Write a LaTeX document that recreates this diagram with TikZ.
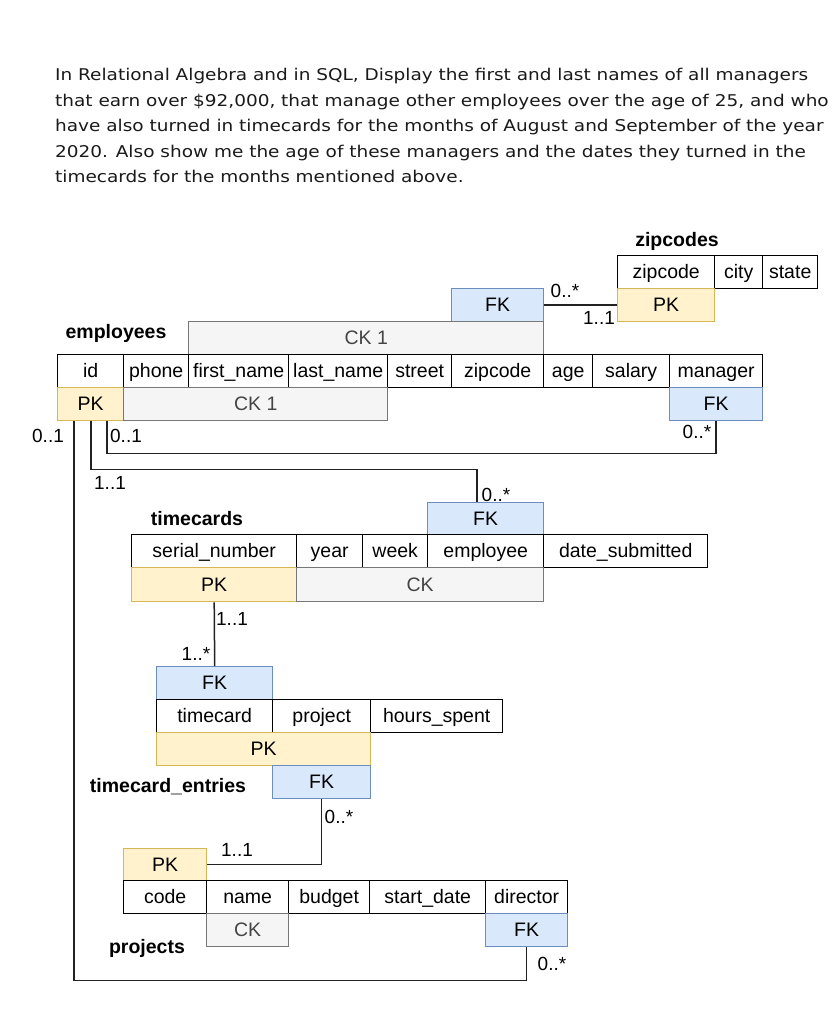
\documentclass[tikz,border=0pt]{standalone}
\usepackage{fontspec}
\setmainfont{Liberation Sans}
\newfontfamily\questfont[FakeStretch=1.14]{DejaVu Sans}
\usepackage{tikz}
\usetikzlibrary{calc}
\definecolor{pkfill}{HTML}{FFF2CC}
\definecolor{pkline}{HTML}{D6B656}
\definecolor{fkfill}{HTML}{DAE8FC}
\definecolor{fkline}{HTML}{6C8EBF}
\definecolor{ckfill}{HTML}{F5F5F5}
\definecolor{ckline}{HTML}{777777}
\definecolor{cktext}{HTML}{444444}
\definecolor{relline}{HTML}{222222}
\definecolor{questtext}{HTML}{1A1A1A}
\tikzset{
	fld/.style={draw=black, line width=1.4pt, minimum height=33pt, inner sep=0pt, anchor=north west,
		text height=15.5pt, text depth=2pt, font=\fontsize{19.5}{23}\selectfont},
	pkbox/.style={fld, draw=pkline, fill=pkfill},
	fkbox/.style={fld, draw=fkline, fill=fkfill},
	ckbox/.style={fld, draw=ckline, fill=ckfill, text=cktext},
	tbl/.style={anchor=base, inner sep=0pt, font=\fontsize{19.5}{23}\selectfont\bfseries},
	mlt/.style={anchor=base, inner sep=0pt, font=\fontsize{19}{23}\selectfont},
	rel/.style={draw=relline, line width=1.5pt},
	quest/.style={anchor=north west, inner sep=0pt, align=left, text=questtext,
		font=\questfont\fontsize{16.2}{25.6}\selectfont},
}
\begin{document}
\begin{tikzpicture}[x=1pt, y=-1pt]
	\useasboundingbox (0,0) rectangle (840,1018);
	% question
	\node[quest] (question) at (55,68) {In Relational Algebra and in SQL, Display the first and last names of all managers\\
		that earn over \$92,000, that manage other employees over the age of 25, and who\\
		have also turned in timecards for the months of August and September of the year\\
		2020. Also show me the age of these managers and the dates they turned in the\\
		timecards for the months mentioned above.};
	% zipcodes
	\node[tbl] (zipTitle) at (677,246) {zipcodes};
	\node[fld, minimum width=97pt] (zipCode) at (617,255) {zipcode};
	\node[fld, minimum width=48pt] (zipCity) at (714,255) {city};
	\node[fld, minimum width=55pt] (zipState) at (762,255) {state};
	\node[pkbox, minimum width=97pt] (zipPK) at (617,288) {PK};
	% employees
	\node[tbl] (empTitle) at (116,338) {employees};
	\node[fkbox, minimum width=92pt] (empFK) at (451,288) {FK};
	\node[ckbox, minimum width=355pt] (empCKtop) at (188,321) {CK 1};
	\node[fld, minimum width=66pt] (empId) at (57,354) {id};
	\node[fld, minimum width=65pt] (empPhone) at (123,354) {phone};
	\node[fld, minimum width=100pt] (empFirst) at (188,354) {first\_name};
	\node[fld, minimum width=99pt] (empLast) at (288,354) {last\_name};
	\node[fld, minimum width=64pt] (empStreet) at (387,354) {street};
	\node[fld, minimum width=92pt] (empZip) at (451,354) {zipcode};
	\node[fld, minimum width=49pt] (empAge) at (543,354) {age};
	\node[fld, minimum width=77pt] (empSalary) at (592,354) {salary};
	\node[fld, minimum width=93pt] (empMgr) at (669,354) {manager};
	\node[pkbox, minimum width=66pt] (empPK) at (57,387) {PK};
	\node[ckbox, minimum width=264pt] (empCKlow) at (123,387) {CK 1};
	\node[fkbox, minimum width=93pt] (mgrFK) at (669,387) {FK};
	% timecards
	\node[tbl] (tcTitle) at (197,525) {timecards};
	\node[fkbox, minimum width=116pt, minimum height=32pt] (tcFK) at (427,502) {FK};
	\node[fld, minimum width=165pt] (tcSerial) at (131,534) {serial\_number};
	\node[fld, minimum width=66pt] (tcYear) at (296,534) {year};
	\node[fld, minimum width=65pt] (tcWeek) at (362,534) {week};
	\node[fld, minimum width=116pt] (tcEmp) at (427,534) {employee};
	\node[fld, minimum width=164pt] (tcDate) at (543,534) {date\_submitted};
	\node[pkbox, minimum width=165pt, minimum height=34pt] (tcPK) at (131,567) {PK};
	\node[ckbox, minimum width=247pt, minimum height=34pt] (tcCK) at (296,567) {CK};
	% timecard_entries
	\node[tbl] (teTitle) at (168,792) {timecard\_entries};
	\node[fkbox, minimum width=116pt] (teCardFK) at (156,666) {FK};
	\node[fld, minimum width=116pt] (teCard) at (156,699) {timecard};
	\node[fld, minimum width=98pt] (teProj) at (272,699) {project};
	\node[fld, minimum width=132pt] (teHours) at (370,699) {hours\_spent};
	\node[pkbox, minimum width=214pt] (tePK) at (156,732) {PK};
	\node[fkbox, minimum width=98pt] (teProjFK) at (272,765) {FK};
	% projects
	\node[tbl] (prjTitle) at (147,953) {projects};
	\node[pkbox, minimum width=83pt, minimum height=32pt] (prjPK) at (123,848) {PK};
	\node[fld, minimum width=83pt] (prjCode) at (123,880) {code};
	\node[fld, minimum width=82pt] (prjName) at (206,880) {name};
	\node[fld, minimum width=81pt] (prjBudget) at (288,880) {budget};
	\node[fld, minimum width=116pt] (prjStart) at (369,880) {start\_date};
	\node[fld, minimum width=82pt] (prjDir) at (485,880) {director};
	\node[ckbox, minimum width=82pt] (prjCK) at (206,913) {CK};
	\node[fkbox, minimum width=82pt] (prjFK) at (485,913) {FK};
	% relations
	\draw[rel] (empFK.east) -- (zipPK.west);
	\draw[rel] (mgrFK.south) -- ++(0,32) -| ([xshift=50pt]empPK.south west);
	\draw[rel] ([xshift=34pt]empPK.south west) -- ++(0,48) -| ([xshift=50pt]tcFK.north west);
	\draw[rel] (prjFK.south) -- ++(0,33) -| ([xshift=17pt]empPK.south west);
	\draw[rel] (tcPK.south) -- (teCardFK.north);
	\draw[rel] (teProjFK.south) |- (prjPK.east);
	% multiplicities
	\node[mlt] (mZipMany) at (565,297) {0..*};
	\node[mlt] (mZipOne) at (599,324) {1..1};
	\node[mlt] (mMgrMany) at (697,438) {0..*};
	\node[mlt] (mPrjOne) at (48,442) {0..1};
	\node[mlt] (mMgrOne) at (126,442) {0..1};
	\node[mlt] (mEmpOne) at (110,489) {1..1};
	\node[mlt] (mTcMany) at (496,501) {0..*};
	\node[mlt] (mTcOne) at (232,625) {1..1};
	\node[mlt] (mTeMany) at (196,660) {1..*};
	\node[mlt] (mTeProjMany) at (339,823) {0..*};
	\node[mlt] (mPrjPKOne) at (237,856) {1..1};
	\node[mlt] (mDirMany) at (552,970) {0..*};
\end{tikzpicture}
\end{document}
